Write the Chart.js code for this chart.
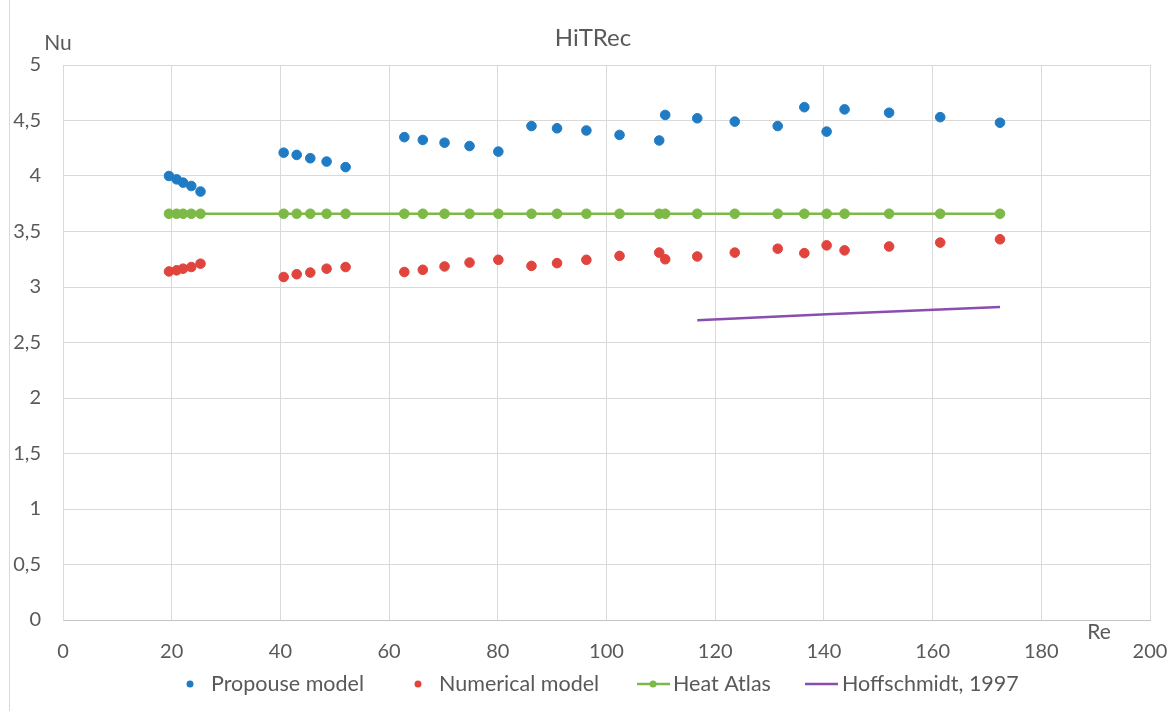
<!DOCTYPE html>
<html>
<head>
<meta charset="utf-8">
<title>HiTRec</title>
<script src="https://cdn.jsdelivr.net/npm/chart.js@4.4.0/dist/chart.umd.min.js"></script>
<style>
  html, body { margin: 0; padding: 0; background: #fff; }
  #wrap { position: relative; width: 1174px; height: 711px; }
</style>
</head>
<body>
<div id="wrap"><canvas id="chart" width="1174" height="711"></canvas></div>
<script>
// Re values shared by the measured series
const reValues = [19.5, 20.9, 22.1, 23.6, 25.3, 40.6, 43.0, 45.5, 48.5, 52.0,
  62.8, 66.2, 70.2, 74.8, 80.1, 86.2, 90.9, 96.3, 102.4, 109.7,
  110.8, 116.7, 123.6, 131.5, 136.4, 140.5, 143.8, 152.0, 161.4, 172.4];

const proposeNu = [4.00, 3.97, 3.94, 3.91, 3.86, 4.21, 4.19, 4.16, 4.13, 4.08,
  4.35, 4.325, 4.30, 4.27, 4.22, 4.45, 4.43, 4.41, 4.37, 4.32,
  4.55, 4.52, 4.49, 4.45, 4.62, 4.40, 4.60, 4.57, 4.53, 4.48];

const numericalNu = [3.14, 3.15, 3.165, 3.18, 3.21, 3.09, 3.115, 3.13, 3.165, 3.18,
  3.135, 3.155, 3.185, 3.22, 3.245, 3.19, 3.215, 3.245, 3.28, 3.31,
  3.25, 3.275, 3.31, 3.345, 3.305, 3.375, 3.33, 3.365, 3.40, 3.43];

const heatAtlasNu = [3.66, 3.66, 3.66, 3.66, 3.66, 3.66, 3.66, 3.66, 3.66, 3.66,
  3.66, 3.66, 3.66, 3.66, 3.66, 3.66, 3.66, 3.66, 3.66, 3.66,
  3.66, 3.66, 3.66, 3.66, 3.66, 3.66, 3.66, 3.66, 3.66, 3.66];

const hoffRe = [116.7, 140.5, 172.4];
const hoffNu = [2.70, 2.755, 2.82];

const xTicks = [0, 20, 40, 60, 80, 100, 120, 140, 160, 180, 200];
const yTicks = [0, 0.5, 1, 1.5, 2, 2.5, 3, 3.5, 4, 4.5, 5];

const FONT = 'Lato, "Open Sans", sans-serif';
const TEXT = '#595959';
const GRID = '#d9d9d9';

const toPoints = (xs, ys) => xs.map((x, i) => ({ x: x, y: ys[i] }));

// Excel-like extra texts: title, axis names, legend, frame line
const decor = {
  id: 'decor',
  afterDraw(chart) {
    const ctx = chart.ctx;
    const area = chart.chartArea;
    ctx.save();
    ctx.strokeStyle = GRID;
    ctx.lineWidth = 1;
    ctx.beginPath();
    ctx.moveTo(9.5, 0);
    ctx.lineTo(9.5, 711);
    ctx.stroke();

    ctx.fillStyle = TEXT;
    ctx.textBaseline = 'middle';
    ctx.textAlign = 'center';
    ctx.font = '24px ' + FONT;
    ctx.fillText('HiTRec', 593, 38);
    ctx.font = '21px ' + FONT;
    ctx.fillText('Nu', area.left - 5, 43);
    ctx.fillText('Re', area.right - 51, 632);

    // legend
    const ds = chart.data.datasets;
    const y = 684;
    ctx.textAlign = 'left';
    ctx.font = '21.5px ' + FONT;
    const items = [
      { kind: 'dot', x: 190, tx: 211 },
      { kind: 'dot', x: 418, tx: 439 },
      { kind: 'lineDot', x: 637, tx: 673 },
      { kind: 'line', x: 805, tx: 842 }
    ];
    items.forEach((it, i) => {
      const d = ds[i];
      const col = d.borderColor;
      if (it.kind === 'dot') {
        ctx.fillStyle = d.backgroundColor;
        ctx.beginPath();
        ctx.arc(it.x, y, 3.5, 0, Math.PI * 2);
        ctx.fill();
      } else {
        ctx.strokeStyle = col;
        ctx.lineWidth = 2.5;
        ctx.beginPath();
        ctx.moveTo(it.x, y);
        ctx.lineTo(it.x + 33, y);
        ctx.stroke();
        if (it.kind === 'lineDot') {
          ctx.fillStyle = col;
          ctx.beginPath();
          ctx.arc(it.x + 16, y, 3.5, 0, Math.PI * 2);
          ctx.fill();
        }
      }
      ctx.fillStyle = TEXT;
      ctx.fillText(d.label, it.tx, y);
    });
    ctx.restore();
  }
};

new Chart(document.getElementById('chart'), {
  type: 'scatter',
  data: {
    datasets: [
      {
        label: 'Propouse model',
        data: toPoints(reValues, proposeNu),
        backgroundColor: '#1f7bc4',
        borderColor: '#1f7bc4',
        borderWidth: 1,
        pointRadius: 4.8,
        showLine: false
      },
      {
        label: 'Numerical model',
        data: toPoints(reValues, numericalNu),
        backgroundColor: '#e0443d',
        borderColor: '#e0443d',
        borderWidth: 1,
        pointRadius: 4.8,
        showLine: false
      },
      {
        label: 'Heat Atlas',
        data: toPoints(reValues, heatAtlasNu),
        backgroundColor: '#7cb947',
        borderColor: '#7cb947',
        borderWidth: 2.5,
        pointBorderWidth: 1,
        pointRadius: 4.8,
        showLine: true
      },
      {
        label: 'Hoffschmidt, 1997',
        data: toPoints(hoffRe, hoffNu),
        backgroundColor: '#8a4eae',
        borderColor: '#8a4eae',
        borderWidth: 2.5,
        pointRadius: 0,
        showLine: true
      }
    ]
  },
  options: {
    responsive: false,
    animation: false,
    layout: { padding: { left: 0, top: 65, right: 24, bottom: 0 } },
    plugins: {
      legend: { display: false },
      title: { display: false },
      tooltip: { enabled: false }
    },
    scales: {
      x: {
        type: 'linear',
        min: 0,
        max: 200,
        afterBuildTicks: s => { s.ticks = xTicks.map(v => ({ value: v })); },
        afterFit: s => { s.height = 91; s.paddingRight = 0; s.paddingLeft = 0; },
        grid: { color: GRID, drawTicks: false },
        border: { color: '#c4c4c4' },
        ticks: { color: TEXT, font: { family: FONT, size: 20 }, padding: 20, maxRotation: 0 }
      },
      y: {
        type: 'linear',
        min: 0,
        max: 5,
        afterBuildTicks: s => { s.ticks = yTicks.map(v => ({ value: v })); },
        afterFit: s => { s.width = 63; s.paddingTop = 0; s.paddingBottom = 0; },
        grid: { color: GRID, drawTicks: false },
        border: { color: GRID },
        ticks: {
          color: TEXT,
          font: { family: FONT, size: 20 },
          padding: 22,
          callback: v => String(v).replace('.', ',')
        }
      }
    }
  },
  plugins: [decor]
});
</script>
</body>
</html>
